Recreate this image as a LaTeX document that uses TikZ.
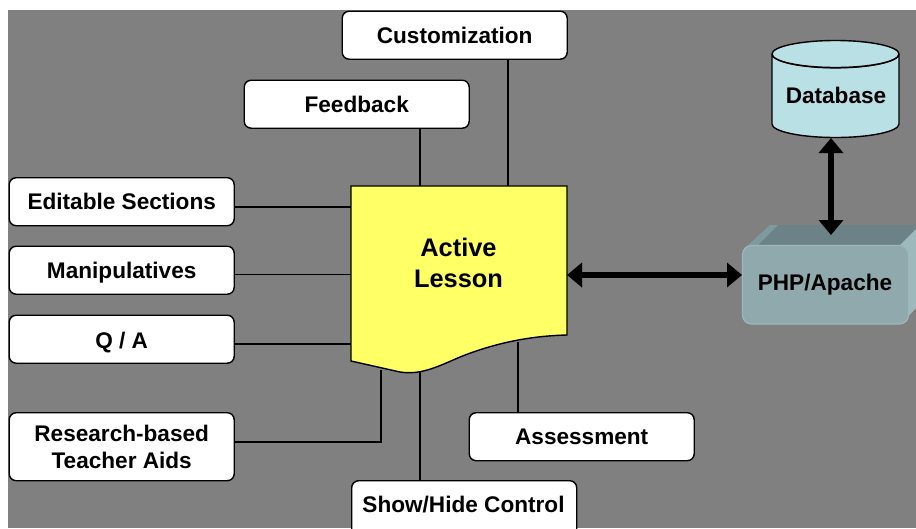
\documentclass[tikz,border=0pt]{standalone}
\usepackage{fontspec}
\setmainfont{Liberation Sans}
\usetikzlibrary{arrows.meta,calc}
\definecolor{bg}{HTML}{808080}
\definecolor{docy}{HTML}{FFFF66}
\definecolor{dbc}{HTML}{B9E0E4}
\definecolor{phpf}{HTML}{8FA9AD}
\definecolor{phpt}{HTML}{6D8286}
\definecolor{phpl}{HTML}{7F9A9E}
\definecolor{phpr}{HTML}{9EB9BC}
\definecolor{phpe}{HTML}{9DB8BC}
\tikzset{
  x=1pt,y=-1pt,
  box/.style={draw=black,fill=white,line width=1.4pt,rounded corners=7pt,minimum width=225pt,anchor=north west,inner sep=0pt,align=center,font=\fontsize{22.6}{27.5}\selectfont\bfseries},
  link/.style={draw=black,line width=1.6pt},
  bigarrow/.style={draw=black,line width=6pt,{Triangle[length=15pt,width=24pt]}-{Triangle[length=15pt,width=24pt]}},
  label/.style={inner sep=0pt,align=center,font=\fontsize{22.6}{27.5}\selectfont\bfseries},
}
\begin{document}
\begin{tikzpicture}
\useasboundingbox (0,0) rectangle (916,528);
\begin{scope}
\clip (0,0) rectangle (916,528);
\fill[white] (0,0) rectangle (916,528);
\fill[bg] (8,10) rectangle (916,528);

% coordinates on the document outline
\coordinate (dTL) at (351,186);
\coordinate (dTR) at (567,186);
\coordinate (dBR) at (567,335);
\coordinate (dBL) at (351,361);
\coordinate (wRes) at (381,370);
\coordinate (wShow) at (420,372);
\coordinate (wAss) at (518,342);
\coordinate (wCust) at (508,186);
\coordinate (wFeed) at (420,186);

% boxes
\node[box,minimum height=48pt] (cust) at (341.5,10.5) {Customization};
\node[box,minimum height=48pt] (feed) at (243.5,79.5) {Feedback};
\node[box,minimum height=48pt] (edit) at (8.5,177) {Editable Sections};
\node[box,minimum height=48pt] (mani) at (8.5,245.5) {\raisebox{-2pt}[.73em][.21em]{Manipulatives}};
\node[box,minimum height=48pt] (qa) at (8.5,314.5) {\raisebox{-2pt}[.73em][.05em]{Q / A}};
\node[box,minimum height=68pt] (rese) at (8.5,412) {Research-based\\Teacher Aids};
\node[box,minimum height=48pt] (asse) at (468.5,412) {Assessment};
\node[box,minimum height=60pt] (show) at (351,480) {};
\node[label] (showt) at (463.5,505) {Show/Hide Control};

% connectors
\coordinate (e1) at ($(edit.east)+(0,5)$);
\coordinate (m1) at ($(mani.east)+(0,4.5)$);
\coordinate (q1) at ($(qa.east)+(0,4.5)$);
\coordinate (r1) at ($(rese.east)+(0,-5)$);
\draw[link] (cust.south -| wCust) -- (wCust);
\draw[link] (feed.south -| wFeed) -- (wFeed);
\draw[link,line width=2pt] (e1) -- (e1 -| dTL);
\draw[link,line width=1.3pt] (m1) -- (m1 -| dTL);
\draw[link,line width=2pt] (q1) -- (q1 -| dTL);
\draw[link] (r1) -- (r1 -| wRes) -- (wRes);
\draw[link] (wShow) -- (wShow |- show.north);
\draw[link] (wAss) -- (wAss |- asse.north);

% document
\draw[black,fill=docy,line width=1.4pt] (dTL) -- (dTR) -- (dBR)
  .. controls (525,336) and (490,345) .. (460,357)
  .. controls (435,368) and (420,375) .. (400,372)
  -- (dBL) -- cycle;
\node[inner sep=0pt,align=center,font=\fontsize{25.4}{31}\selectfont\bfseries] (doc) at (458.5,263) {Active\\Lesson};

% database
\draw[black,fill=dbc,line width=1.4pt] (772,54) -- (772,124)
  arc[start angle=180,end angle=360,x radius=63.5,y radius=-13.5]
  -- (899,54) arc[start angle=0,end angle=-360,x radius=63.5,y radius=13.5];
\draw[black,line width=1.1pt] (772,54) arc[start angle=180,end angle=360,x radius=63.5,y radius=-14];
\node[label] (db) at (836,95) {Database};
\coordinate (dbb) at (831,138);

% php box
\fill[phpt] (770,225) -- (916,225) -- (916,250) -- (745,250) -- cycle;
\fill[phpl] (770,225) -- (745,248) -- (755,248) -- (778,225) -- cycle;
\fill[phpr] (899,246) -- (916,229) -- (916,308) -- (905,320) -- cycle;
\fill[phpf,draw=phpe,line width=1.2pt,rounded corners=9pt] (742.5,245.5) rectangle (908.5,324);
\node[label] (php) at (825,285) {PHP/Apache};
\coordinate (phpw) at (742,275);
\coordinate (phpn) at (831,235);
\coordinate (dR) at (567,275);

\draw[bigarrow] (dR) -- (phpw);
\draw[bigarrow] (dbb) -- (phpn);
\end{scope}
\end{tikzpicture}
\end{document}
